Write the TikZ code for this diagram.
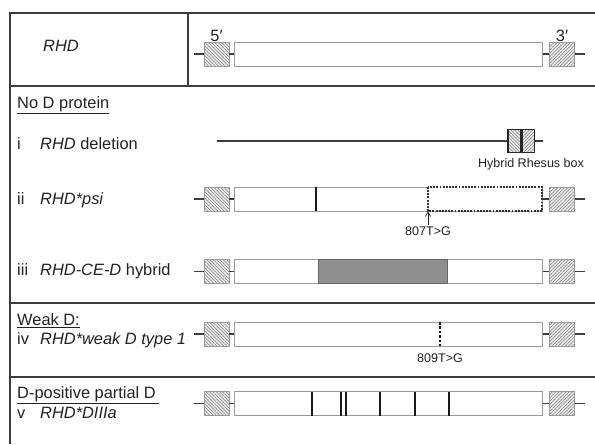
\documentclass[tikz,border=0pt]{standalone}
\usepackage{fontspec}
\setmainfont{Liberation Sans}
\usepackage{xcolor}
\definecolor{frameGray}{HTML}{3C3C3C}
\definecolor{geneGray}{HTML}{9A9A9A}
\definecolor{hatchGray}{HTML}{7A7A7A}
\definecolor{blockGray}{HTML}{8F8F8F}
\definecolor{darkText}{HTML}{222222}
\usepackage{tikz}
\usetikzlibrary{
    arrows.meta,
    patterns.meta,
    positioning
}
\tikzset{
    % Table frame
    frame/.style={
        draw=frameGray,
        line width=1.1pt,
    },
    % Row titles and allele names
    row label/.style={
        font=\fontsize{14}{16}\selectfont,
        text=darkText,
        anchor=base west,
        inner sep=0pt,
    },
    % Mutation and box captions
    small label/.style={
        font=\fontsize{10.7}{12}\selectfont,
        text=darkText,
        inner sep=1pt,
    },
    % Hatched exon at each end
    exon/.style={
        rectangle,
        draw=geneGray,
        line width=0.7pt,
        minimum width=0.75cm,
        minimum height=0.72cm,
        inner sep=0pt,
        preaction={fill=gray!15},
        pattern color=hatchGray,
    },
    exon five/.style={exon, pattern={Lines[angle=-45, distance=2pt, line width=0.45pt]}},
    exon three/.style={exon, pattern={Lines[angle=45, distance=2pt, line width=0.45pt]}},
    % Coding body of the gene
    gene body/.style={
        rectangle,
        draw=geneGray,
        line width=0.85pt,
        fill=white,
        minimum width=9.24cm,
        minimum height=0.72cm,
        inner sep=0pt,
    },
    % Halves of the hybrid Rhesus box
    hybrid half/.style={
        rectangle,
        draw=black!85,
        line width=1.2pt,
        minimum width=0.375cm,
        minimum height=0.69cm,
        inner sep=0pt,
        preaction={fill=gray!15},
        pattern color=hatchGray,
    },
    link/.style={draw=frameGray, line width=0.9pt},
    deletion/.style={draw=frameGray, line width=1.4pt},
    snp/.style={draw=black!90, line width=1.7pt},
    dashed part/.style={
        draw=black!80,
        line width=0.9pt,
        dash pattern=on 1.6pt off 1.1pt,
        fill=white,
    },
    pointer/.style={
        -{Straight Barb[length=1.3mm, width=1.6mm]},
        draw=darkText,
        line width=0.6pt,
    },
    hybrid block/.style={fill=blockGray, draw=gray!80!black, line width=0.6pt},
}

\begin{document}
\begin{tikzpicture}[x=0.03cm, y=-0.03cm]
    \useasboundingbox (0,0) rectangle (595,444);

    % frame
    \draw [frame] (595,13) -- (10,13) -- (10,444);
    \draw [frame] (188,13) -- (188,86);
    \draw [frame] (10,86) -- (595,86);
    \draw [frame] (10,303) -- (595,303);
    \draw [frame] (10,377) -- (595,377);

    % RHD
    \node (toprhd) [row label] at (43,51.5) {\textit{RHD}};
    \node (e5a) [exon five] at (216.5,54) {};
    \node (bodya) [gene body, right=0.15cm of e5a] {};
    \node (e3a) [exon three, right=0.18cm of bodya] {};
    \coordinate [left=0.3cm of e5a] (ina);
    \coordinate [right=0.3cm of e3a] (outa);
    \draw [link] (ina) -- (e5a) (e5a) -- (bodya) (bodya) -- (e3a) (e3a) -- (outa);
    \node (five) [row label, anchor=south] at (e5a.north) {5\char"2032};
    \node (three) [row label, anchor=south] at (e3a.north) {3\char"2032};

    % No D protein
    \node (nod) [row label] at (17,108) {\underline{No D protein}};
    \node (numi) [row label] at (17,149) {i};
    \node (namei) [row label] at (40,149) {\textit{RHD} deletion};
    \coordinate (dels) at (217,141);
    \node (hybl) [hybrid half, pattern={Lines[angle=-45, distance=2pt, line width=0.45pt]}] at (514.25,141) {};
    \node (hybr) [hybrid half, pattern={Lines[angle=45, distance=2pt, line width=0.45pt]}, right=0pt of hybl] {};
    \coordinate (dele) at (543,141);
    \draw [deletion] (dels) -- (hybl) (hybr) -- (dele);
    \node (hyblab) [small label, anchor=base] at (531,167.5) {Hybrid Rhesus box};

    \node (numii) [row label] at (17,204) {ii};
    \node (nameii) [row label] at (40,204) {\textit{RHD*psi}};
    \node (e5b) [exon five] at (216.5,199) {};
    \node (bodyb) [gene body, right=0.15cm of e5b] {};
    \node (e3b) [exon three, right=0.18cm of bodyb] {};
    \coordinate [left=0.3cm of e5b] (inb);
    \coordinate [right=0.3cm of e3b] (outb);
    \draw [link] (inb) -- (e5b) (e5b) -- (bodyb) (bodyb) -- (e3b) (e3b) -- (outb);
    \draw [dashed part] (428,187) rectangle (542,211);
    \draw [snp] (316,187) -- (316,211);
    \node (lab807) [small label] at (428,231) {807T>G};
    \draw [pointer] (lab807.north) -- (lab807 |- bodyb.south);

    \node (numiii) [row label] at (17,275) {iii};
    \node (nameiii) [row label] at (40,275) {\textit{RHD-CE-D} hybrid};
    \node (e5c) [exon five] at (216.5,271.5) {};
    \node (bodyc) [gene body, right=0.15cm of e5c] {};
    \node (e3c) [exon three, right=0.18cm of bodyc] {};
    \coordinate [left=0.3cm of e5c] (inc);
    \coordinate [right=0.3cm of e3c] (outc);
    \draw [link] (inc) -- (e5c) (e5c) -- (bodyc) (bodyc) -- (e3c) (e3c) -- (outc);
    \draw [hybrid block] (318,259.5) rectangle (447,283.5);

    % Weak D
    \node (weak) [row label] at (17,325) {\underline{Weak D:}};
    \node (numiv) [row label] at (17,344) {iv};
    \node (nameiv) [row label] at (40,344) {\textit{RHD*weak D type 1}};
    \node (e5d) [exon five] at (216.5,334) {};
    \node (bodyd) [gene body, right=0.15cm of e5d] {};
    \node (e3d) [exon three, right=0.18cm of bodyd] {};
    \coordinate [left=0.3cm of e5d] (ind);
    \coordinate [right=0.3cm of e3d] (outd);
    \draw [link] (ind) -- (e5d) (e5d) -- (bodyd) (bodyd) -- (e3d) (e3d) -- (outd);
    \draw [snp, dash pattern=on 2.2pt off 1.6pt] (440,322) -- (440,346);
    \node (lab809) [small label] at (440,358) {809T>G};

    % D-positive partial D
    \node (partial) [row label] at (17,398) {\underline{D-positive partial D\,}};
    \node (numv) [row label] at (17,418) {v};
    \node (namev) [row label] at (40,418) {\textit{RHD*DIIIa}};
    \node (e5e) [exon five] at (216.5,403.5) {};
    \node (bodye) [gene body, right=0.15cm of e5e] {};
    \node (e3e) [exon three, right=0.18cm of bodye] {};
    \coordinate [left=0.3cm of e5e] (ine);
    \coordinate [right=0.3cm of e3e] (oute);
    \draw [link] (ine) -- (e5e) (e5e) -- (bodye) (bodye) -- (e3e) (e3e) -- (oute);
    \draw [snp] (312,391.5) -- (312,415.5) (341,391.5) -- (341,415.5)
        (346,391.5) -- (346,415.5) (380,391.5) -- (380,415.5)
        (415,391.5) -- (415,415.5) (449,391.5) -- (449,415.5);
\end{tikzpicture}
\end{document}
